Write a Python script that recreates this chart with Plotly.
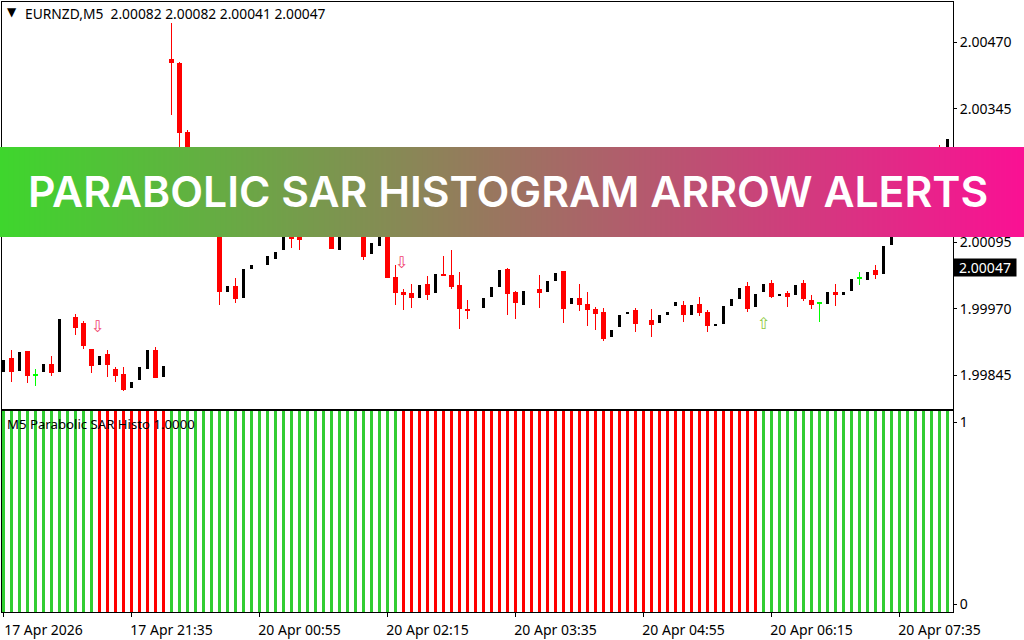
import plotly.graph_objects as go

# Candles: bar index, open, high, low, close (points are price * 1e5)
candle_index = [0,1,2,3,4,5,6,7,9,10,11,12,13,14,15,16,17,18,19,20,21,22,23,27,28,29,30,31,33,34,35,36,37,41,42,45,46,47,48,49,50,51,52,53,54,55,56,57,58,60,61,62,63,64,65,67,68,69,70,71,72,73,74,75,76,77,78,79,81,82,83,84,85,86,87,88,89,90,91,92,93,94,95,96,97,98,99,100,101,102,103,104,105,106,107,108,109,110,111,117,118]
open_pts = [199851,199878,199853,199891,199846,199851,199866,199851,199954,199943,199894,199864,199885,199857,199847,199821,199836,199857,199893,199842,200438,200431,200301,200230,200001,200013,199990,200044,200052,200063,200080,200127,200114,200127,200080,200127,200072,200087,200174,200029,200001,199999,199990,200016,199999,200035,200033,200014,199969,199971,199992,200011,200044,200001,199977,200007,200001,200022,200041,199979,199990,199979,199969,199964,199917,199936,199961,199968,199949,199943,199958,199975,199977,199958,199979,199964,199938,199941,199975,199988,200012,199973,200001,200018,199995,199999,199996,200018,199986,199981,199979,200001,199996,200003,200028,200024,200042,200035,200089,200239,200230]
high_pts = [199874,199893,199889,199891,199857,199866,199881,199950,199960,199947,199894,199881,199893,199861,199861,199833,199861,199893,199898,199862,200506,200432,200305,200230,200013,200028,200044,200052,200069,200076,200127,200136,200114,200127,200127,200127,200093,200127,200174,200052,200007,200016,200014,200031,200035,200069,200080,200039,199986,199990,200011,200043,200046,200003,200003,200033,200022,200037,200041,199990,200016,200001,199973,199971,199930,199958,199963,199971,199969,199958,199964,199982,199984,199977,199992,199968,199940,199975,199988,200009,200020,199997,200016,200024,199997,200003,200014,200024,199996,199983,200001,200016,200001,200026,200039,200039,200052,200087,200127,200277,200288]
low_pts = [199851,199833,199853,199831,199825,199851,199844,199851,199921,199894,199849,199864,199842,199833,199816,199821,199836,199857,199840,199842,200333,200258,200192,199977,200001,199981,199990,200044,200052,200063,200080,200084,200080,200082,200080,200061,200072,200087,200028,199977,199968,199971,199990,199986,199999,200033,200007,199932,199951,199971,199992,200011,199958,199951,199977,199971,200001,200022,199943,199979,199966,199937,199930,199909,199917,199936,199961,199926,199917,199943,199958,199975,199945,199958,199956,199926,199938,199941,199975,199988,199964,199973,200001,199990,199995,199973,199996,199984,199969,199945,199979,199975,199996,200003,200014,200024,200026,200035,200089,200230,200230]
close_pts = [199874,199851,199889,199844,199846,199866,199849,199950,199934,199900,199862,199881,199864,199844,199818,199833,199861,199893,199840,199862,200431,200299,200202,200001,200013,199988,200044,200052,200069,200076,200127,200101,200099,200082,200127,200067,200093,200127,200028,199999,199996,199990,200014,199996,200035,200033,200011,199969,199967,199990,200011,200043,199997,199981,200003,199999,200022,200037,199969,199990,199977,199968,199960,199913,199930,199958,199963,199941,199939,199958,199964,199982,199958,199977,199962,199937,199940,199975,199988,200009,199969,199997,200016,199992,199997,199992,200014,199988,199977,199981,200001,199996,200001,200026,200028,200039,200033,200087,200127,200230,200288]

# Histogram state per bar, run lengths: 1 = green, 0 = red
hist_runs = [(12,1),(9,0),(29,1),(45,0),(24,1)]
hist_value = 1.2
hist_base = -0.1

# Arrows
down_arrow_index = [11.75, 49.75]
down_arrow_price = [1.99934, 2.00054]
up_arrow_index = [95]
up_arrow_price = [1.99939]

price_ticks = [2.00470, 2.00345, 2.00095, 1.99970, 1.99845]
time_tick_index = [0,16,32,48,64,80,96,112]
time_tick_text = ["17 Apr 2026","17 Apr 21:35","20 Apr 00:55","20 Apr 02:15","20 Apr 03:35","20 Apr 04:55","20 Apr 06:15","20 Apr 07:35"]

legend_text = "EURNZD,M5  2.00082 2.00082 2.00041 2.00047"
panel_text = "M5 Parabolic SAR Histo 1.0000"
banner_text = "PARABOLIC SAR HISTOGRAM ARROW ALERTS"
last_price = 2.00047

UI_FONT = "Noto Sans"
W, H = 1024, 640
RED, BLACK, LIME = "#ff0000", "#000000", "#00ff00"

fig = go.Figure()

def split(kind):
    rows = []
    for i, o, h, l, c in zip(candle_index, open_pts, high_pts, low_pts, close_pts):
        if (kind == "bear" and c < o) or (kind == "bull" and c > o) or (kind == "doji" and c == o):
            rows.append((i, o / 1e5, h / 1e5, l / 1e5, c / 1e5))
    return rows

def add_bodies(rows, color, width, doji=False):
    xs = [r[0] for r in rows]
    if doji:
        tops = [r[1] + 0.00001 for r in rows]
        bots = [r[1] - 0.00001 for r in rows]
    else:
        tops = [max(r[1], r[4]) for r in rows]
        bots = [min(r[1], r[4]) for r in rows]
    highs = [r[2] for r in rows]
    lows = [r[3] for r in rows]
    fig.add_trace(go.Bar(
        x=xs, y=[t - b for t, b in zip(tops, bots)], base=bots, width=width / 8,
        marker=dict(color=color, line_width=0),
        error_y=dict(type="data", symmetric=False, color=color, thickness=1, width=0,
                     array=[max(h - t, 0) for h, t in zip(highs, tops)],
                     arrayminus=[max(t - l, 0) for t, l in zip(tops, lows)]),
        xaxis="x", yaxis="y", showlegend=False))

add_bodies(split("bear"), RED, 5)
add_bodies(split("bull"), BLACK, 3)
add_bodies(split("doji"), LIME, 5, doji=True)

fig.add_trace(go.Scatter(x=down_arrow_index, y=down_arrow_price, mode="text", text=["⇩"]*2,
                         textfont=dict(family="DejaVu Sans", size=16, color="#f0406e"), showlegend=False))
fig.add_trace(go.Scatter(x=up_arrow_index, y=up_arrow_price, mode="text", text=["⇧"],
                         textfont=dict(family="DejaVu Sans", size=16, color="#8cc83c"), showlegend=False))

states = []
for n, s in hist_runs:
    states += [s] * n
fig.add_trace(go.Bar(x=list(range(len(states))), y=[hist_value]*len(states), base=hist_base, width=3/8,
                     marker=dict(color=["#32cd32" if s else "#ff0000" for s in states], line_width=0),
                     xaxis="x2", yaxis="y2", showlegend=False))

c0 = (62, 214, 45)
c1 = (250, 16, 148)
fig.add_trace(go.Heatmap(z=[[0, 1]], x=[0, 1], y=[0], zsmooth="best", showscale=False, hoverinfo="skip",
                         colorscale=[[0, "rgb%s" % (c0,)], [1, "rgb%s" % (c1,)]],
                         xaxis="x3", yaxis="y3"))

x_rng = [(2 - 3.5) / 8, (953 - 3.5) / 8]
def py(px):
    return 1 - px / H
axis_font = dict(family=UI_FONT, size=14, color="#000000")
fig.update_layout(
    width=W, height=H, autosize=False, margin=dict(l=0, r=0, t=0, b=0, autoexpand=False),
    paper_bgcolor="#ffffff", plot_bgcolor="#ffffff", barmode="overlay", bargap=0, showlegend=False,
    xaxis=dict(domain=[2/W, 953/W], range=x_rng, showgrid=False, zeroline=False, showticklabels=False,
               showline=True, mirror=True, linecolor="#000", linewidth=1, ticks="", anchor="y"),
    yaxis=dict(domain=[py(409), py(2)], range=[1.99782, 2.00545], side="right", tickvals=price_ticks,
               ticktext=["%.5f" % t for t in price_ticks], showgrid=False, zeroline=False,
               showline=True, mirror=True, linecolor="#000", linewidth=1, ticks="outside", ticklen=3,
               tickcolor="#000", tickfont=axis_font, anchor="x"),
    xaxis2=dict(domain=[2/W, 953/W], range=x_rng, showgrid=False, zeroline=False, tickvals=time_tick_index,
                ticktext=time_tick_text, tickangle=0, ticks="outside", ticklen=4, tickcolor="#000", tickfont=axis_font,
                showline=True, mirror=True, linecolor="#000", linewidth=1, anchor="y2", ticklabelshift=40, ticklabelstandoff=1),
    yaxis2=dict(domain=[py(612), py(411)], range=[-8/182, 193/182], side="right", tickvals=[0, 1], showgrid=False,
                zeroline=False, showline=True, mirror=True, linecolor="#000", linewidth=1, ticks="outside", ticklen=3,
                tickcolor="#000", tickfont=axis_font, anchor="x2"),
    xaxis3=dict(domain=[0, 1], range=[0, 1], visible=False, anchor="y3", fixedrange=True),
    yaxis3=dict(domain=[py(237), py(147)], range=[-0.5, 0.5], visible=False, anchor="x3", fixedrange=True),
    annotations=[
        dict(text=banner_text, xref="paper", yref="paper", x=508/W, y=py(191), showarrow=False, xanchor="center", yanchor="middle",
             font=dict(family="Inter", size=42.7, color="#ffffff", weight=600)),
        dict(text=legend_text, xref="paper", yref="paper", x=23/W, y=py(14), showarrow=False, xanchor="left", yanchor="middle",
             font=dict(family=UI_FONT, size=13.8, color="#000")),
        dict(text="▼", xref="paper", yref="paper", x=12/W, y=py(12), showarrow=False, xanchor="center", yanchor="middle",
             font=dict(family="DejaVu Sans", size=12, color="#000")),
        dict(text=panel_text, xref="paper", yref="paper", x=5/W, y=py(424), showarrow=False, xanchor="left", yanchor="middle",
             font=dict(family=UI_FONT, size=13.2, color="#000")),
        dict(text="%.5f" % last_price, xref="paper", yref="y", x=985/W, y=last_price, showarrow=False, xanchor="center", yanchor="middle",
             bgcolor="#000", width=60, height=15, font=dict(family=UI_FONT, size=14, color="#fff")),
    ],
)
fig.write_html("out.html", config=dict(displayModeBar=False),
               post_script="document.body.style.margin='0';document.documentElement.style.overflow='hidden';")
